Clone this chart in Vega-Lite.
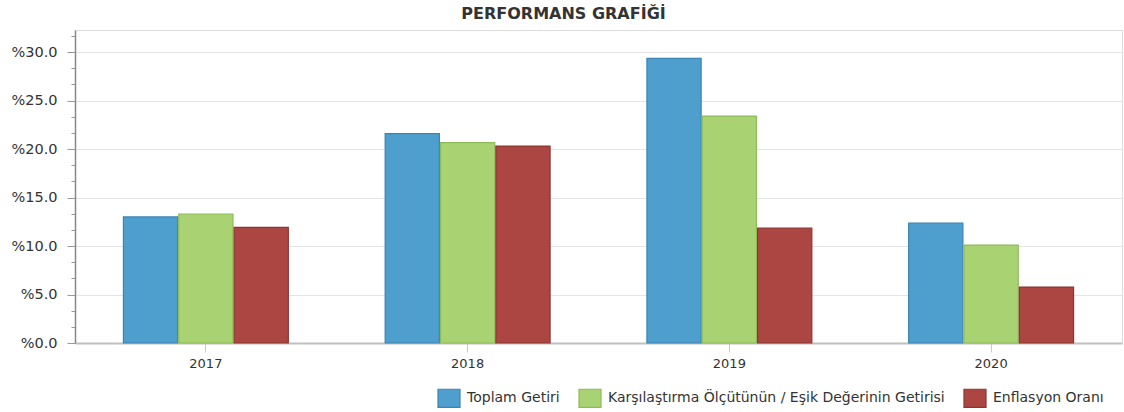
{
  "$schema": "https://vega.github.io/schema/vega-lite/v6.json",
  "width": 1047,
  "height": 313,
  "autosize": {"type": "none"},
  "padding": {"left": 75, "top": 30, "right": 2, "bottom": 69},
  "background": "white",
  "title": {
    "text": "PERFORMANS GRAFİĞİ",
    "font": "DejaVu Sans",
    "fontSize": 16,
    "fontWeight": "bold",
    "color": "#333333",
    "anchor": "middle",
    "dx": -35,
    "offset": 8
  },
  "config": {
    "view": {"stroke": "#dddddd", "strokeWidth": 1},
    "font": "DejaVu Sans"
  },
  "data": {
    "values": [
      {"year": "2017", "series": "Toplam Getiri", "value": 13.0},
      {"year": "2017", "series": "Karşılaştırma Ölçütünün / Eşik Değerinin Getirisi", "value": 13.3},
      {"year": "2017", "series": "Enflasyon Oranı", "value": 11.92},
      {"year": "2018", "series": "Toplam Getiri", "value": 21.58},
      {"year": "2018", "series": "Karşılaştırma Ölçütünün / Eşik Değerinin Getirisi", "value": 20.65},
      {"year": "2018", "series": "Enflasyon Oranı", "value": 20.3},
      {"year": "2019", "series": "Toplam Getiri", "value": 29.35},
      {"year": "2019", "series": "Karşılaştırma Ölçütünün / Eşik Değerinin Getirisi", "value": 23.4},
      {"year": "2019", "series": "Enflasyon Oranı", "value": 11.84},
      {"year": "2020", "series": "Toplam Getiri", "value": 12.37},
      {"year": "2020", "series": "Karşılaştırma Ölçütünün / Eşik Değerinin Getirisi", "value": 10.1},
      {"year": "2020", "series": "Enflasyon Oranı", "value": 5.77}
    ]
  },
  "mark": {"type": "bar", "strokeWidth": 1.2},
  "encoding": {
    "x": {
      "field": "year",
      "type": "nominal",
      "scale": {"paddingInner": 0.37, "paddingOuter": 0.185},
      "axis": {
        "title": null,
        "labelAngle": 0,
        "labelFont": "DejaVu Sans",
        "labelFontSize": 13,
        "labelColor": "#333333",
        "labelPadding": 5,
        "domainColor": "#c0c0c0",
        "domainWidth": 2,
        "tickColor": "#c8c8c8",
        "tickSize": 9,
        "tickWidth": 1,
        "grid": false
      }
    },
    "xOffset": {
      "field": "series",
      "type": "nominal",
      "sort": ["Toplam Getiri", "Karşılaştırma Ölçütünün / Eşik Değerinin Getirisi", "Enflasyon Oranı"],
      "scale": {"paddingInner": 0.02}
    },
    "y": {
      "field": "value",
      "type": "quantitative",
      "scale": {"domain": [0, 32.27], "nice": false, "zero": true},
      "axis": {
        "title": null,
        "values": [0, 1.6667, 3.3333, 5, 6.6667, 8.3333, 10, 11.6667, 13.3333, 15, 16.6667, 18.3333, 20, 21.6667, 23.3333, 25, 26.6667, 28.3333, 30, 31.6667],
        "labelExpr": "abs(datum.value/5 - round(datum.value/5)) < 0.01 ? '%' + format(datum.value, '.1f') : ''",
        "labelFont": "DejaVu Sans",
        "labelFontSize": 14.5,
        "labelColor": "#333333",
        "labelPadding": 10,
        "domainColor": "#888888",
        "domainWidth": 1.5,
        "tickColor": "#999999",
        "tickSize": {"condition": {"test": "abs(datum.value/5 - round(datum.value/5)) < 0.01", "value": 8}, "value": 4},
        "gridColor": "#e4e4e4",
        "gridOpacity": {"condition": {"test": "abs(datum.value/5 - round(datum.value/5)) < 0.01", "value": 1}, "value": 0},
        "gridWidth": 1
      }
    },
    "fill": {
      "field": "series",
      "type": "nominal",
      "sort": ["Toplam Getiri", "Karşılaştırma Ölçütünün / Eşik Değerinin Getirisi", "Enflasyon Oranı"],
      "scale": {
        "domain": ["Toplam Getiri", "Karşılaştırma Ölçütünün / Eşik Değerinin Getirisi", "Enflasyon Oranı"],
        "range": ["#4e9fcd", "#a9d372", "#ab4643"]
      },
      "legend": {
        "title": null,
        "orient": "none",
        "legendX": 362,
        "legendY": 356,
        "direction": "horizontal",
        "symbolType": "M-1,-0.82H1V0.82H-1Z",
        "symbolSize": 484,
        "symbolStrokeWidth": 1.2,
        "labelFont": "DejaVu Sans",
        "labelFontSize": 14,
        "labelColor": "#333333",
        "labelOffset": 6,
        "labelLimit": 600,
        "columnPadding": 16
      }
    },
    "stroke": {
      "field": "series",
      "type": "nominal",
      "sort": ["Toplam Getiri", "Karşılaştırma Ölçütünün / Eşik Değerinin Getirisi", "Enflasyon Oranı"],
      "scale": {
        "domain": ["Toplam Getiri", "Karşılaştırma Ölçütünün / Eşik Değerinin Getirisi", "Enflasyon Oranı"],
        "range": ["#3b84b3", "#8dbb57", "#8e3431"]
      },
      "legend": {
        "title": null,
        "orient": "none",
        "legendX": 362,
        "legendY": 356,
        "direction": "horizontal",
        "symbolType": "M-1,-0.82H1V0.82H-1Z",
        "symbolSize": 484,
        "symbolStrokeWidth": 1.2,
        "labelFont": "DejaVu Sans",
        "labelFontSize": 14,
        "labelColor": "#333333",
        "labelOffset": 6,
        "labelLimit": 600,
        "columnPadding": 16
      }
    }
  }
}
